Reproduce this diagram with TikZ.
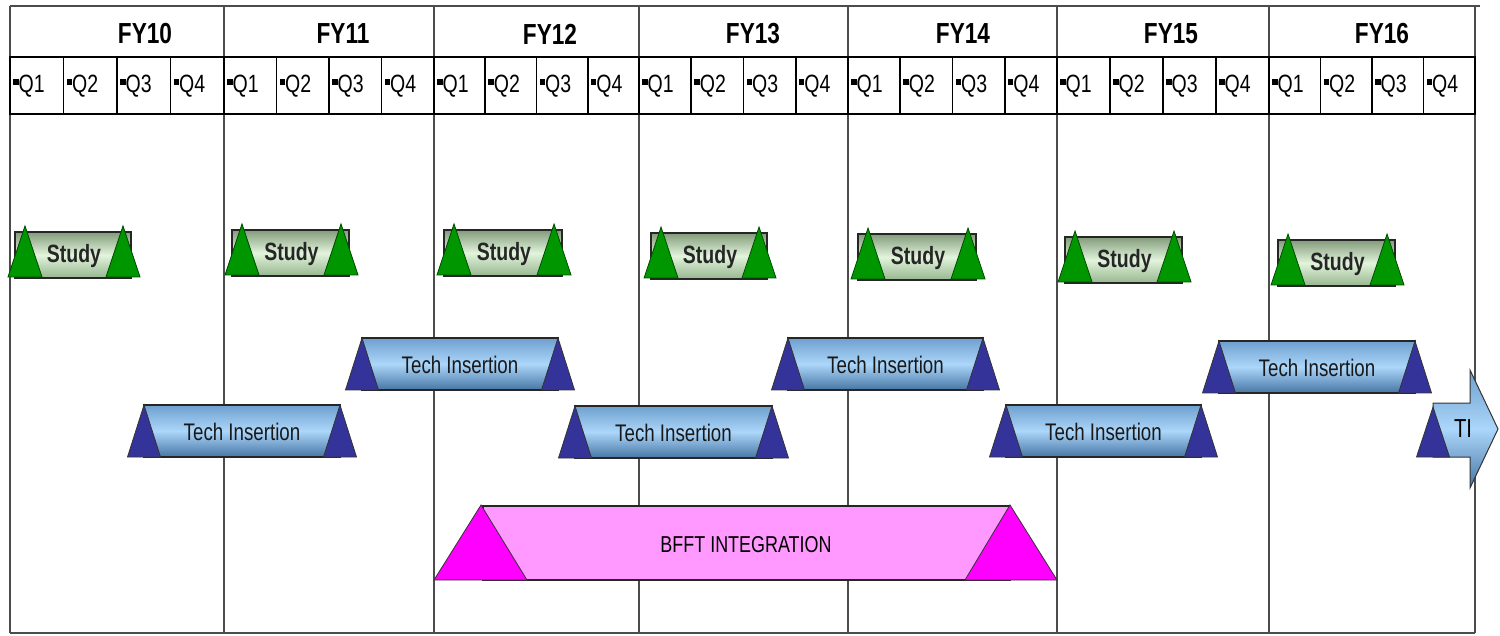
\documentclass[tikz,border=0pt]{standalone}
\usepackage{fontspec}
\setmainfont{Liberation Sans}[FakeStretch=0.78]
\definecolor{gtri}{RGB}{0,150,0}
\definecolor{stop}{RGB}{130,155,122}
\definecolor{smid}{RGB}{226,244,220}
\definecolor{sbot}{RGB}{150,182,142}
\definecolor{btri}{RGB}{51,51,153}
\definecolor{ttop}{RGB}{110,160,206}
\definecolor{tmid}{RGB}{172,214,250}
\definecolor{tbot}{RGB}{70,118,165}
\definecolor{prect}{RGB}{255,153,255}
\definecolor{ptri}{RGB}{255,0,255}
\newcommand\qbul{\rule[0.3em]{0.22em}{0.22em}}
\tikzset{
  gridline/.style={draw=black!70, line width=1.4pt},
  qbox/.style={draw=black, line width=1.8pt},
  fylab/.style={font={\bfseries\fontsize{29}{30}\selectfont}, inner sep=0pt},
  qlab/.style={font={\fontsize{25}{26}\selectfont}, anchor=west, inner sep=1pt},
  studyrect/.style={draw=black!85, line width=1.3pt, top color=stop, bottom color=sbot, middle color=smid},
  greentri/.style={fill=gtri, draw=black!70!green, line width=0.8pt},
  studytxt/.style={font={\bfseries\fontsize{25}{26}\selectfont}, inner sep=0pt, text=black!85},
  techrect/.style={draw=black!85, line width=1.3pt, top color=ttop, bottom color=tbot, middle color=tmid},
  bluetri/.style={fill=btri, draw=black!80, line width=0.8pt},
  techtxt/.style={font={\fontsize{24}{25}\selectfont}, inner sep=0pt, text=black!90},
  pinkrect/.style={fill=prect, draw=black!85, line width=1.2pt},
  pinktri/.style={fill=ptri, draw=black!80, line width=0.8pt},
  pinktxt/.style={font={\fontsize{23}{24}\selectfont}, inner sep=0pt},
  tiarrow/.style={draw=black!80, line width=1pt, top color=ttop, bottom color=tbot, middle color=tmid}
}
\newcommand\studybar[4]{%
  \path[studyrect] ({#2-10},{#4+6}) rectangle ({#3+8},{#4+52});
  \draw[greentri] (#2,#4) -- ({#2-17},{#4+51}) -- ({#2+17},{#4+51}) -- cycle;
  \draw[greentri] (#3,#4) -- ({#3-17},{#4+51}) -- ({#3+17},{#4+51}) -- cycle;
  \node[studytxt] (#1) at ({(#2+#3)/2},{#4+30}) {Study};
}
\newcommand\techbar[4]{%
  \path[techrect] (#2,#4) rectangle (#3,{#4+52});
  \draw[bluetri] (#2,#4) -- ({#2-16.5},{#4+52}) -- ({#2+16.5},{#4+52}) -- cycle;
  \draw[bluetri] (#3,#4) -- ({#3-16.5},{#4+52}) -- ({#3+16.5},{#4+52}) -- cycle;
  \node[techtxt] (#1) at ({(#2+#3)/2},{#4+27}) {Tech Insertion};
}
\begin{document}
\begin{tikzpicture}[x=1pt,y=-1pt]
\useasboundingbox[fill=white] (0,0) rectangle (1500,636);
% grid
\foreach \x in {10,224,434,639,848,1057,1269,1475}
  \draw[gridline] (\x,6) -- (\x,633);
\draw[gridline] (10,6) -- (1480,6);
\draw[gridline] (10,633) -- (1475,633);
% header
\foreach \fy/\a/\b/\tx in {10/10/224/145, 11/224/434/343, 12/434/639/550, 13/639/848/753, 14/848/1057/963, 15/1057/1269/1171, 16/1269/1475/1382} {
  \node[fylab] (fy\fy) at (\tx,34) {FY\fy};
  \foreach \k in {1,...,4} {
    \pgfmathsetmacro\xa{\a+(\k-1)*(\b-\a)/4}
    \pgfmathsetmacro\xb{\a+\k*(\b-\a)/4}
    \draw[qbox] (\xa,57) rectangle (\xb,114);
    \node[qlab] (q\fy-\k) at (\xa+2,86) {\qbul Q\k};
  }
}
% study bars
\studybar{s1}{25}{123}{226}
\studybar{s2}{242}{341}{224}
\studybar{s3}{454}{554}{224}
\studybar{s4}{661}{759}{227}
\studybar{s5}{868}{968}{228}
\studybar{s6}{1075}{1174}{231}
\studybar{s7}{1288}{1387}{234}
% tech insertion bars
\techbar{tA}{362}{558}{338}
\techbar{tB}{788}{983}{338}
\techbar{tC}{1219}{1415}{341}
\techbar{tD}{144}{340}{405}
\techbar{tE}{575}{772}{406}
\techbar{tF}{1006}{1201}{405}
% TI arrow
\path[tiarrow] (1433,403) -- (1470,403) -- (1470,370) -- (1498,429) -- (1470,488) -- (1470,457) -- (1433,457) -- cycle;
\draw[bluetri] (1433,407) -- (1416.5,457) -- (1449.5,457) -- cycle;
\node[font={\fontsize{26}{27}\selectfont}, inner sep=0pt] (ti) at (1463,429) {TI};
% BFFT integration
\path[pinkrect] (483,506) rectangle (1010,580);
\draw[pinktri] (481,505) -- (434,580) -- (527,580) -- cycle;
\draw[pinktri] (1010,505) -- (965,580) -- (1057,580) -- cycle;
\node[pinktxt] (bfft) at (746,545) {BFFT INTEGRATION};
\end{tikzpicture}
\end{document}
